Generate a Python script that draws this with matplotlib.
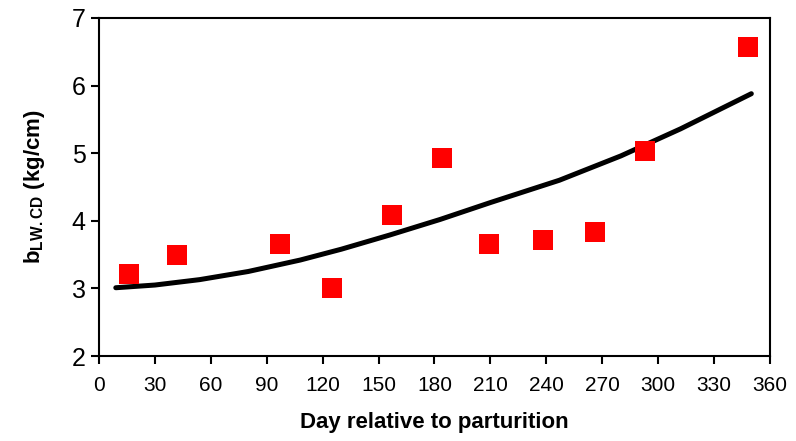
import matplotlib
matplotlib.use('Agg')
import matplotlib.pyplot as plt

# observed values (red squares)
obs_day = [16, 42, 97, 125, 157, 184, 209, 238, 266, 293, 348]
obs_b = [3.22, 3.49, 3.65, 3.00, 4.08, 4.93, 3.65, 3.72, 3.83, 5.03, 6.57]

# fitted curve
fit_day = [9, 30, 54, 80, 108, 130, 156, 183, 210, 247, 280, 312, 350]
fit_b = [3.01, 3.05, 3.13, 3.25, 3.42, 3.58, 3.79, 4.02, 4.27, 4.60, 4.96, 5.36, 5.88]

xticks = list(range(0, 361, 30))
yticks = [2, 3, 4, 5, 6, 7]

plt.rcParams['font.family'] = ['Liberation Sans', 'DejaVu Sans']
plt.rcParams['mathtext.fontset'] = 'custom'
plt.rcParams['mathtext.rm'] = 'Liberation Sans'
plt.rcParams['mathtext.bf'] = 'Liberation Sans:bold'

fig = plt.figure(figsize=(7.96, 4.41), dpi=100)
ax = fig.add_axes([0.1244, 0.1927, 0.8429, 0.7665])

ax.plot(fit_day, fit_b, color='black', linewidth=3.6, solid_capstyle='round',
        solid_joinstyle='round', zorder=2)
ax.plot(obs_day, obs_b, linestyle='none', marker='s', markersize=14.4,
        color='#FF0000', markeredgewidth=0, zorder=3)

ax.set_xlim(0, 360)
ax.set_ylim(2, 7)
ax.set_xticks(xticks)
ax.set_yticks(yticks)
ax.set_xticklabels([str(t) for t in xticks], fontsize=15,
                   family=['Liberation Sans Narrow', 'Liberation Sans'])
ax.set_yticklabels([str(t) for t in yticks], fontsize=18)
ax.tick_params(axis='both', direction='out', length=5.5, width=1.5, color='black')
ax.tick_params(axis='x', pad=9)
ax.tick_params(axis='y', pad=4)
for s in ax.spines.values():
    s.set_linewidth(1.5)

ax.set_xlabel('Day relative to parturition', fontsize=16, fontweight='bold', labelpad=12)
ax.set_ylabel(r'b$_{\mathbf{LW.CD}}$ (kg/cm)', fontsize=16, fontweight='bold', labelpad=18)

fig.savefig('out.png', dpi=100)
